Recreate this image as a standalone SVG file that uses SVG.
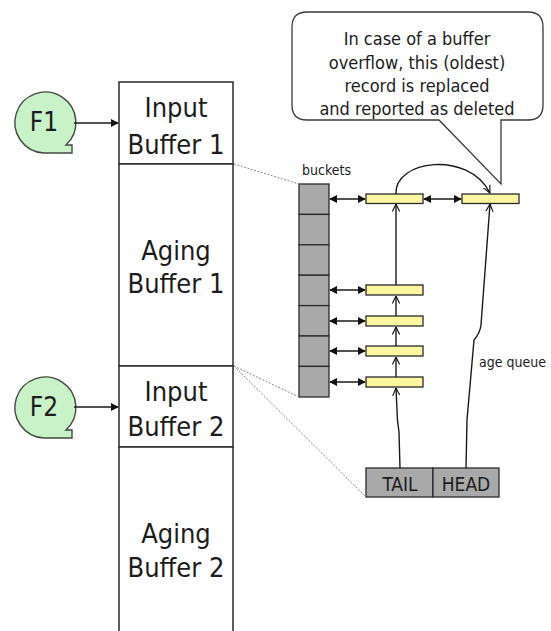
<svg xmlns="http://www.w3.org/2000/svg" width="551" height="631" viewBox="0 0 551 631">
<style>
text{font-family:"DejaVu Sans Condensed","DejaVu Sans",sans-serif;font-stretch:condensed;fill:#1c1c1c}
.big{font-size:27px;text-anchor:middle}
.cl{font-size:18px;text-anchor:middle}
.sm{font-size:14px}
.box{fill:#fff;stroke:#2a2a2a;stroke-width:1.5}
.bk{fill:#a9a9a9;stroke:#2a2a2a;stroke-width:1.3}
.rec{fill:#fbf7a0;stroke:#2a2a2a;stroke-width:1.3}
.ln{fill:none;stroke:#1a1a1a;stroke-width:1.4}
.dot{fill:none;stroke:#8a8a8a;stroke-width:1;stroke-dasharray:2 1.5}
.fc{fill:#c9f2c9;stroke:#404a40;stroke-width:1.4}
</style>
<defs>
<marker id="fa" viewBox="0 0 10 10" refX="9" refY="5" markerWidth="8" markerHeight="8" markerUnits="userSpaceOnUse" orient="auto-start-reverse"><path d="M0,0 L10,5 L0,10 z" fill="#111"/></marker>
<marker id="oa" viewBox="0 0 10 10" refX="9.5" refY="5" markerWidth="8" markerHeight="10" markerUnits="userSpaceOnUse" orient="auto"><path d="M0,0.5 L9.5,5 L0,9.5" fill="none" stroke="#111" stroke-width="1.4"/></marker>
</defs>

<g id="callout">
<path d="M307,12 H528 Q543,12 543,27 V105 Q543,120 528,120 H501 L501,184 L439,120 H307 Q292,120 292,105 V27 Q292,12 307,12 Z" fill="#fff" stroke="#3a3a3a" stroke-width="1.3"/>
<text class="cl" x="417" y="45">In case of a buffer</text>
<text class="cl" x="417" y="69">overflow, this (oldest)</text>
<text class="cl" x="417" y="92">record is replaced</text>
<text class="cl" x="417" y="115">and reported as deleted</text>
</g>

<g id="column">
<rect class="box" x="119" y="82" width="114" height="82"/>
<rect class="box" x="119" y="164" width="114" height="202"/>
<rect class="box" x="119" y="366" width="114" height="81"/>
<path class="box" d="M119,640 V447 H233 V640"/>
</g>
<g id="input1"><text class="big" x="176" y="117">Input</text><text class="big" x="176" y="154">Buffer 1</text></g>
<g id="aging1"><text class="big" x="176" y="260">Aging</text><text class="big" x="176" y="293">Buffer 1</text></g>
<g id="input2"><text class="big" x="176" y="401">Input</text><text class="big" x="176" y="436">Buffer 2</text></g>
<g id="aging2"><text class="big" x="176" y="543">Aging</text><text class="big" x="176" y="577">Buffer 2</text></g>

<g id="F1">
<path class="fc" d="M44,153 H72 V145 H66 A30.5,30.5 0 1 0 44,153 Z"/>
<text class="big" x="44" y="131" style="font-size:26px">F1</text>
</g>
<g id="F2">
<path class="fc" d="M44,438 H72 V430 H66 A30.5,30.5 0 1 0 44,438 Z"/>
<text class="big" x="44" y="416" style="font-size:26px">F2</text>
</g>

<g id="buckets">
<rect class="bk" x="299" y="184" width="30" height="30.4"/>
<rect class="bk" x="299" y="214.4" width="30" height="30.4"/>
<rect class="bk" x="299" y="244.8" width="30" height="30.4"/>
<rect class="bk" x="299" y="275.2" width="30" height="30.4"/>
<rect class="bk" x="299" y="305.6" width="30" height="30.4"/>
<rect class="bk" x="299" y="336" width="30" height="30.4"/>
<rect class="bk" x="299" y="366.4" width="30" height="30.6"/>
<text class="sm" x="302" y="175">buckets</text>
</g>

<g id="records">
<rect class="rec" x="366" y="194" width="57" height="9.5"/>
<rect class="rec" x="462" y="194" width="57" height="9.5"/>
<rect class="rec" x="366" y="285" width="57" height="10"/>
<rect class="rec" x="366" y="316" width="57" height="10"/>
<rect class="rec" x="366" y="346" width="57" height="10"/>
<rect class="rec" x="366" y="377" width="57" height="10"/>
</g>

<g id="tailhead">
<rect class="bk" x="366" y="468" width="67" height="29"/>
<rect class="bk" x="433" y="468" width="66" height="29"/>
<text x="400" y="491" style="font-size:19px;text-anchor:middle">TAIL</text>
<text x="466" y="491" style="font-size:19px;text-anchor:middle">HEAD</text>
</g>

<text class="sm" x="479" y="367">age queue</text>

<g id="connectors">
<line class="ln" x1="74" y1="123" x2="118" y2="123" marker-end="url(#fa)"/>
<line class="ln" x1="74" y1="407" x2="118" y2="407" marker-end="url(#fa)"/>
<line class="dot" x1="234" y1="164" x2="299" y2="184"/>
<line class="dot" x1="234" y1="366" x2="299" y2="397"/>
<line class="dot" x1="234" y1="366" x2="366" y2="497"/>
<line class="ln" x1="330" y1="199" x2="365" y2="199" marker-start="url(#fa)" marker-end="url(#fa)"/>
<line class="ln" x1="424" y1="199" x2="461" y2="199" marker-start="url(#fa)" marker-end="url(#fa)"/>
<line class="ln" x1="330" y1="290" x2="365" y2="290" marker-start="url(#fa)" marker-end="url(#fa)"/>
<line class="ln" x1="330" y1="321" x2="365" y2="321" marker-start="url(#fa)" marker-end="url(#fa)"/>
<line class="ln" x1="330" y1="351" x2="365" y2="351" marker-start="url(#fa)" marker-end="url(#fa)"/>
<line class="ln" x1="330" y1="382" x2="365" y2="382" marker-start="url(#fa)" marker-end="url(#fa)"/>
<path class="ln" d="M400,468 L399,432 Q397,420 397,410 L396,388" marker-end="url(#oa)"/>
<line class="ln" x1="396" y1="377" x2="396" y2="357" marker-end="url(#oa)"/>
<line class="ln" x1="396" y1="346" x2="396" y2="327" marker-end="url(#oa)"/>
<line class="ln" x1="396" y1="316" x2="396" y2="296" marker-end="url(#oa)"/>
<line class="ln" x1="396" y1="285" x2="396" y2="204" marker-end="url(#oa)"/>
<path class="ln" d="M396,194 C394,160 468,150 490,193" marker-end="url(#oa)"/>
<path class="ln" d="M466,468 L467,420 L474,340 Q480,333 481,325 L490,204" marker-end="url(#oa)"/>
</g>
</svg>
